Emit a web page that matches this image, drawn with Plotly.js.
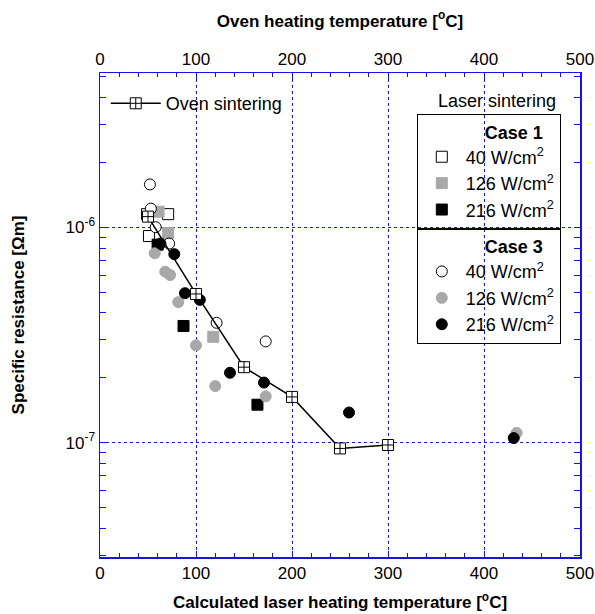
<!DOCTYPE html>
<html>
<head>
<meta charset="utf-8">
<script src="https://cdn.plot.ly/plotly-3.0.1.min.js"></script>
<style>html,body{margin:0;padding:0;background:#fff;}#chart{width:595px;height:614px;}</style>
</head>
<body>
<div id="chart"></div>
<script>
// Oven sintering (top axis: oven heating temperature)
const ovenTemp = [50, 100, 150, 200, 250, 300];
const ovenRes = [1.12e-6, 4.9e-7, 2.24e-7, 1.63e-7, 9.4e-8, 9.75e-8];

// Laser sintering, Case 1 (squares)
const c1_40_T = [49, 71, 51];
const c1_40_R = [1.15e-6, 1.15e-6, 9.1e-7];
const c1_126_T = [61, 71, 118];
const c1_126_R = [1.18e-6, 9.4e-7, 3.1e-7];
const c1_216_T = [60, 87, 164];
const c1_216_R = [8.3e-7, 3.48e-7, 1.5e-7];

// Laser sintering, Case 3 (circles)
const c3_40_T = [52, 53, 58, 72, 121.5, 172.6];
const c3_40_R = [1.58e-6, 1.22e-6, 1.0e-6, 8.4e-7, 3.6e-7, 2.95e-7];
const c3_126_T = [57, 68, 73, 81.5, 100, 120, 172.6, 434];
const c3_126_R = [7.57e-7, 6.22e-7, 6.0e-7, 4.49e-7, 2.83e-7, 1.83e-7, 1.64e-7, 1.11e-7];
const c3_216_T = [63, 77.4, 88.5, 104, 135.4, 170.8, 259.4, 431];
const c3_216_R = [8.4e-7, 7.5e-7, 4.94e-7, 4.6e-7, 2.11e-7, 1.9e-7, 1.38e-7, 1.05e-7];

const powerLabels = ['40 W/cm<sup>2</sup>', '126 W/cm<sup>2</sup>', '216 W/cm<sup>2</sup>'];
const yTickVals = [1e-7, 1e-6];
const yTickText = ['10<sup>-7</sup>', '10<sup>-6</sup>'];
const yMinorVals = [];
[1e-8, 1e-7, 1e-6].forEach(d => { for (let k = 2; k <= 9; k++) yMinorVals.push(k * d); });

const BLUE = 'rgb(20,20,230)';
const GRAY = 'rgb(168,168,168)';
const FONT = 'Liberation Sans, Arial, sans-serif';
const MS = 11;
const PAD = '&nbsp;&nbsp;&nbsp;&nbsp;&nbsp;&nbsp;&nbsp;&nbsp;&nbsp;&nbsp;';

function sq(T, R, name, fill, edge, leg) {
  return {x: T, y: R, name: name, type: 'scatter', mode: 'markers', legend: leg,
    marker: {symbol: 'square', size: MS, color: fill, line: {color: edge, width: 1}}};
}
function ci(T, R, name, fill, edge, leg) {
  return {x: T, y: R, name: name, type: 'scatter', mode: 'markers', legend: leg,
    marker: {symbol: 'circle', size: MS, color: fill, line: {color: edge, width: 1}}};
}

const traces = [
  sq(c1_40_T, c1_40_R, powerLabels[0], 'white', 'black', 'legend2'),
  sq(c1_126_T, c1_126_R, powerLabels[1], GRAY, GRAY, 'legend2'),
  sq(c1_216_T, c1_216_R, powerLabels[2], 'black', 'black', 'legend2'),
  ci(c3_40_T, c3_40_R, powerLabels[0], 'white', 'black', 'legend3'),
  ci(c3_126_T, c3_126_R, powerLabels[1], GRAY, GRAY, 'legend3'),
  ci(c3_216_T, c3_216_R, powerLabels[2], 'black', 'black', 'legend3'),
  {x: ovenTemp, y: ovenRes, name: 'Oven sintering', type: 'scatter', mode: 'lines+markers',
   xaxis: 'x2', legend: 'legend', showlegend: true,
   line: {color: 'black', width: 1.5},
   marker: {symbol: 'square-cross', size: MS, color: 'white', line: {color: 'black', width: 1}}}
];

const xCommon = {
  range: [0, 500], dtick: 100, tick0: 0,
  ticks: 'inside', ticklen: 6, tickwidth: 1, tickcolor: BLUE,
  showline: true, linecolor: BLUE, linewidth: 1.5,
  zeroline: false, automargin: false,
  tickfont: {family: FONT, size: 17, color: 'black'},
  minor: {dtick: 20, ticks: 'inside', ticklen: 4, tickwidth: 1, tickcolor: BLUE, showgrid: false}
};

const layout = {
  width: 595, height: 614,
  margin: {l: 100, r: 15, t: 73, b: 57, autoexpand: false},
  paper_bgcolor: 'white', plot_bgcolor: 'white',
  showlegend: true,
  font: {family: FONT, size: 17, color: 'black'},
  xaxis: Object.assign({}, xCommon, {
    side: 'bottom',
    showgrid: true, gridcolor: BLUE, gridwidth: 1, griddash: 'dot',
    title: {text: '<b>Calculated laser heating temperature [<sup>o</sup>C]</b>', font: {family: FONT, size: 17}, standoff: 14}
  }),
  xaxis2: Object.assign({}, xCommon, {
    side: 'top', overlaying: 'x', anchor: 'y', showgrid: false,
    title: {text: '<b>Oven heating temperature [<sup>o</sup>C]</b>', font: {family: FONT, size: 17}, standoff: 18}
  }),
  yaxis: {
    type: 'log', range: [-7.531, -5.284],
    tickmode: 'array', tickvals: yTickVals, ticktext: yTickText,
    ticks: 'inside', ticklen: 6, tickwidth: 1, tickcolor: BLUE,
    showline: true, linecolor: BLUE, linewidth: 1.5, mirror: 'allticks',
    showgrid: true, gridcolor: BLUE, gridwidth: 1, griddash: 'dot',
    zeroline: false, automargin: false,
    tickfont: {family: FONT, size: 17, color: 'black'},
    minor: {tickmode: 'array', tickvals: yMinorVals, ticks: 'inside', ticklen: 4, tickwidth: 1, tickcolor: BLUE, showgrid: false},
    title: {text: '<b>Specific resistance [Ωm]</b>', font: {family: FONT, size: 17}, standoff: 36}
  },
  legend: {
    x: 0.012, y: 0.975, xanchor: 'left', yanchor: 'top',
    bgcolor: 'rgba(0,0,0,0)', borderwidth: 0,
    font: {family: FONT, size: 18}, itemwidth: 50
  },
  legend2: {
    x: 0.66, y: 0.915, xanchor: 'left', yanchor: 'top',
    bgcolor: 'rgba(0,0,0,0)', bordercolor: 'black', borderwidth: 1,
    font: {family: FONT, size: 18}, itemwidth: 38,
    title: {text: PAD + '<b>Case 1</b>', side: 'top center', font: {family: FONT, size: 18}}
  },
  legend3: {
    x: 0.66, y: 0.678, xanchor: 'left', yanchor: 'top',
    bgcolor: 'rgba(0,0,0,0)', bordercolor: 'black', borderwidth: 1,
    font: {family: FONT, size: 18}, itemwidth: 38,
    title: {text: PAD + '<b>Case 3</b>', side: 'top center', font: {family: FONT, size: 18}}
  },
  annotations: [{
    text: 'Laser sintering', xref: 'paper', yref: 'paper', x: 0.827, y: 0.942,
    xanchor: 'center', yanchor: 'middle', showarrow: false,
    font: {family: FONT, size: 18, color: 'black'}
  }]
};

Plotly.newPlot('chart', traces, layout, {displayModeBar: false, staticPlot: true});
</script>
</body>
</html>
